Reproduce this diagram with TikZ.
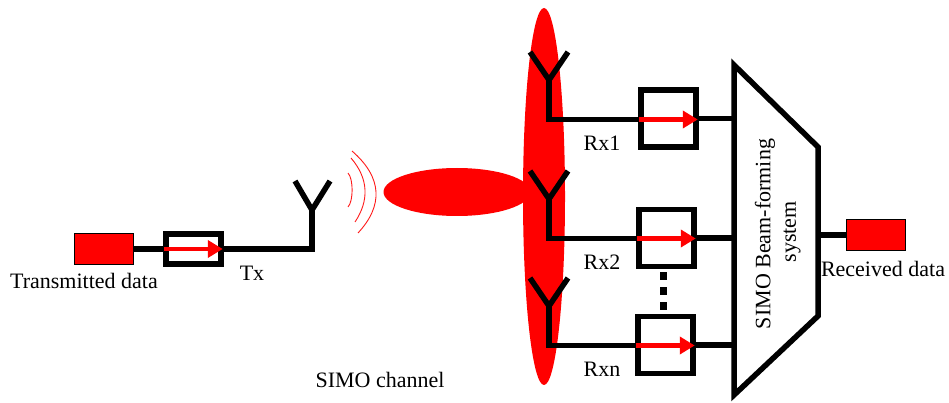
\documentclass[tikz,border=0pt]{standalone}
\usepackage{fontspec}
\setmainfont{Liberation Serif}
\usetikzlibrary{arrows.meta,shapes.geometric}
\tikzset{
    wire/.style={line width=5.5pt},
    databox/.style={draw=black,line width=0.6pt,fill=red,minimum width=59pt,minimum height=31pt,inner sep=0pt},
    filterbox/.style={draw,line width=5.5pt,minimum width=55pt,minimum height=57pt,inner sep=0pt},
    sigarrow/.style={red,line width=4.2pt,-{Triangle[length=15pt,width=17pt]},shorten <=1pt,shorten >=1pt},
    wave/.style={red!90!white,line width=0.9pt},
    beam/.style={ellipse,fill=red,inner sep=0pt},
    lbl/.style={font=\fontsize{22}{24}\selectfont,inner sep=0pt,text=black}
}
\begin{document}
\begin{tikzpicture}[x=1pt,y=-1pt]
    \useasboundingbox (0,0) rectangle (949,403);
    % beams
    \node[beam,minimum width=147pt,minimum height=48pt] (txbeam) at (457,192) {};
    \node[beam,minimum width=42pt,minimum height=377pt] (rxbeam) at (544,196.5) {};
    % transmit side
    \node[databox] (txdata) at (103.5,249) {};
    \node[filterbox,minimum height=30pt] (txfilter) at (193.5,249) {};
    \coordinate (txbase) at (312,249);
    \coordinate (txfork) at (312,210);
    \coordinate (txleft) at (295,181);
    \coordinate (txright) at (330,181);
    \draw[wire] (txdata) -- (txfilter);
    \draw[wire] (txfilter) -- (txbase) -- (txfork);
    \draw[wire] (txleft) -- (txfork) -- (txright);
    \draw[sigarrow] (txfilter.west) -- (txfilter.east);
    \node[lbl] (txdatalabel) at (84,281) {Transmitted data};
    \node[lbl] (txlabel) at (252,273) {Tx};
    % waves
    \draw[wave] (348,173) .. controls (353.5,179) and (353.5,201) .. (348,207);
    \draw[wave] (351,158) .. controls (369,179) and (369,201) .. (355,222);
    \draw[wave] (352,151) .. controls (383,178) and (383,206) .. (358,233);
    % beam-forming block
    \coordinate (bfa) at (734,65);
    \coordinate (bfb) at (818,147);
    \coordinate (bfc) at (818,316);
    \coordinate (bfd) at (734,395);
    \draw[line width=5.5pt,miter limit=10] (bfa) -- (bfb) -- (bfc) -- (bfd) -- cycle;
    \node[lbl,rotate=90] (bfname) at (765,234) {SIMO Beam-forming};
    \node[lbl,rotate=90] (bfsystem) at (792,232) {system};
    % receive branches
    \foreach \n/\boxx/\boxy/\fy/\label in {1/668.5/118.5/80/Rx1,2/666.5/238/199/Rx2,3/665.5/345/306/Rxn}{
        \node[filterbox] (rxbox\n) at (\boxx,\boxy) {};
        \coordinate (rxfork\n) at (549,\fy);
        \coordinate (rxbase\n) at (549,\fy+39.5);
        \coordinate (rxleft\n) at (530,\fy-28);
        \coordinate (rxright\n) at (568,\fy-28);
        \draw[wire] (rxleft\n) -- (rxfork\n) -- (rxright\n);
        \draw[wire] (rxfork\n) -- (rxbase\n) -- (rxbox\n.west |- rxbase\n);
        \draw[wire] (rxbox\n.east) -- (rxbox\n.east -| bfa);
        \draw[sigarrow] (rxbox\n.west |- rxbase\n) -- (rxbox\n.east |- rxbase\n);
        \node[lbl] (rxlabel\n) at (602,\fy+63) {\label};
    }
    % dots between the lower boxes
    \foreach \y in {276,291,306}{
        \fill (663,\y) +(-3.5,-4) rectangle +(3.5,4);
    }
    % output
    \node[databox] (rxdata) at (876,235) {};
    \draw[wire] (bfb |- rxdata) -- (rxdata);
    \node[lbl] (rxdatalabel) at (883,269) {Received data};
    \node[lbl] (channellabel) at (380,380) {SIMO channel};
\end{tikzpicture}
\end{document}
